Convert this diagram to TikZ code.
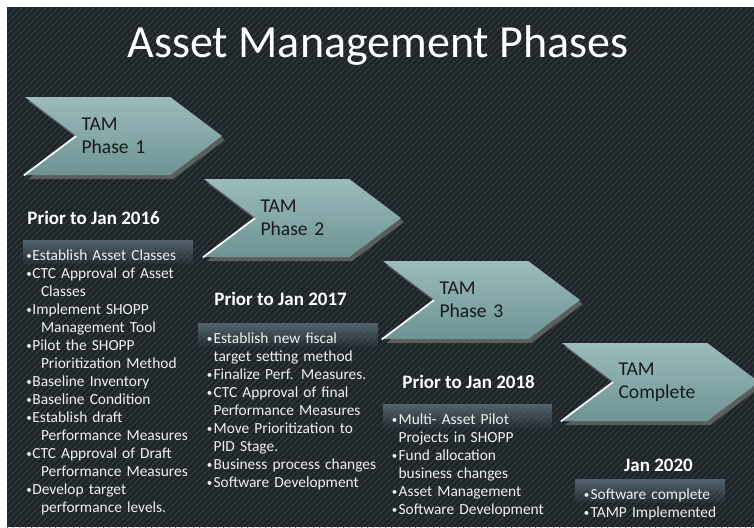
\documentclass[tikz,border=0pt]{standalone}
\usepackage{fontspec}
\setmainfont{Carlito}
\usetikzlibrary{shapes.symbols, shadows, fadings}

\definecolor{BgDark}{HTML}{1C2125}
\definecolor{BgStripe}{HTML}{2B3439}
\definecolor{ChevTop}{HTML}{9CBBBB}
\definecolor{ChevBot}{HTML}{6D9393}
\definecolor{ListTop}{HTML}{52626C}

\tikzfading[name=ListFade, top color=transparent!0, bottom color=transparent!95]

\newlength{\BulBox}
\newlength{\BulHang}
\newcommand{\Bul}[1]{\par\rightskip=-30pt plus 1fil\hangindent=\BulHang\hangafter=1\noindent
    \makebox[\BulBox][l]{\raisebox{0.6pt}{\fontsize{5.5}{6}\selectfont\textbullet}}#1}

\tikzstyle{Heading} = [text=white,
                       inner sep=0pt,
                       font=\fontsize{23}{27}\selectfont]
\tikzstyle{Chevron} = [shape=signal,
                       signal from=west,
                       signal to=east,
                       signal pointer angle=74,
                       minimum width=98.5pt,
                       minimum height=39pt,
                       inner sep=0pt,
                       text width=42pt,
                       align=left,
                       top color=ChevTop,
                       bottom color=ChevBot,
                       text=black!90,
                       font=\fontsize{9.8}{11.5}\selectfont,
                       drop shadow={opacity=0.6, shadow xshift=1.5pt, shadow yshift=-2pt}]
\tikzstyle{Glint} = [draw=white!92!ChevTop, line width=0.9pt]
\tikzstyle{Period} = [text=white,
                      inner sep=0pt,
                      font=\fontsize{9.5}{11}\selectfont\bfseries]
\tikzstyle{List} = [anchor=north west,
                    text=white!94!black,
                    align=left,
                    fill=ListTop,
                    path fading=ListFade,
                    inner xsep=4.2pt,
                    inner ysep=1pt,
                    text depth=10pt,
                    font=\fontsize{7.7}{9}\selectfont,
                    execute at begin node={\setlength{\BulBox}{3.4pt}\setlength{\BulHang}{3.4pt}}]

\begin{document}
\begin{tikzpicture}[x=0.5pt, y=-0.5pt]
        \useasboundingbox (0,0) rectangle (754,527);
        % striped backdrop
        \fill[BgDark] (7,7) rectangle (754,527);
        \begin{scope}
            \clip (7,7) rectangle (754,527);
            \foreach \i in {0,6,...,1290}
                \draw[BgStripe, line width=1pt] (\i-527,527) -- (\i,0);
        \end{scope}

        \node (Title) [Heading] at (378,45) {Asset Management Phases};

        % task lists
        \node (P1_List) [List, text width=82pt, inner xsep=1.5pt,
            execute at begin node={\setlength{\BulBox}{3pt}\setlength{\BulHang}{7.3pt}}] at (23,240) {%
            \Bul{Establish Asset Classes}
            \Bul{CTC Approval of Asset\newline Classes}
            \Bul{Implement SHOPP\newline Management Tool}
            \Bul{Pilot the SHOPP\newline Prioritization Method}
            \Bul{Baseline Inventory}
            \Bul{Baseline Condition}
            \Bul{Establish draft\newline Performance Measures}
            \Bul{CTC Approval of Draft\newline Performance Measures}
            \Bul{Develop target\newline performance levels.}\par};
        \node (P2_List) [List, text width=81.6pt] at (198,323) {%
            \Bul{Establish new fiscal\newline target setting method}
            \Bul{Finalize Perf. Measures.}
            \Bul{CTC Approval of final\newline Performance Measures}
            \Bul{Move Prioritization to\newline PID Stage.}
            \Bul{Business process changes}
            \Bul{Software Development}\par};
        \node (P3_List) [List, text width=76.1pt] at (383,404) {%
            \Bul{Multi- Asset Pilot\newline Projects in SHOPP}
            \Bul{Fund allocation\newline business changes}
            \Bul{Asset Management}
            \Bul{Software Development}\par};
        \node (P4_List) [List, text width=66.6pt] at (575,479) {%
            \Bul{Software complete}
            \Bul{TAMP Implemented}\par};

        % phase chevrons
        \node (P1_Chev) [Chevron] at (123.5,136) {TAM\\Phase 1};
        \node (P2_Chev) [Chevron] at (302.5,218) {TAM\\Phase 2};
        \node (P3_Chev) [Chevron] at (481.5,300) {TAM\\Phase 3};
        \node (P4_Chev) [Chevron] at (660.5,382) {TAM\\Complete};
        \foreach \p in {P1,P2,P3,P4}
            \draw[Glint] (\p_Chev.west) -- (\p_Chev.south west);

        % dates
        \node (P1_Date) [Period, anchor=west] at (27,218) {Prior to Jan 2016};
        \node (P2_Date) [Period, anchor=west] at (214,299) {Prior to Jan 2017};
        \node (P3_Date) [Period, anchor=west] at (402,382) {Prior to Jan 2018};
        \node (P4_Date) [Period] at (658.5,465) {Jan 2020};
\end{tikzpicture}
\end{document}
